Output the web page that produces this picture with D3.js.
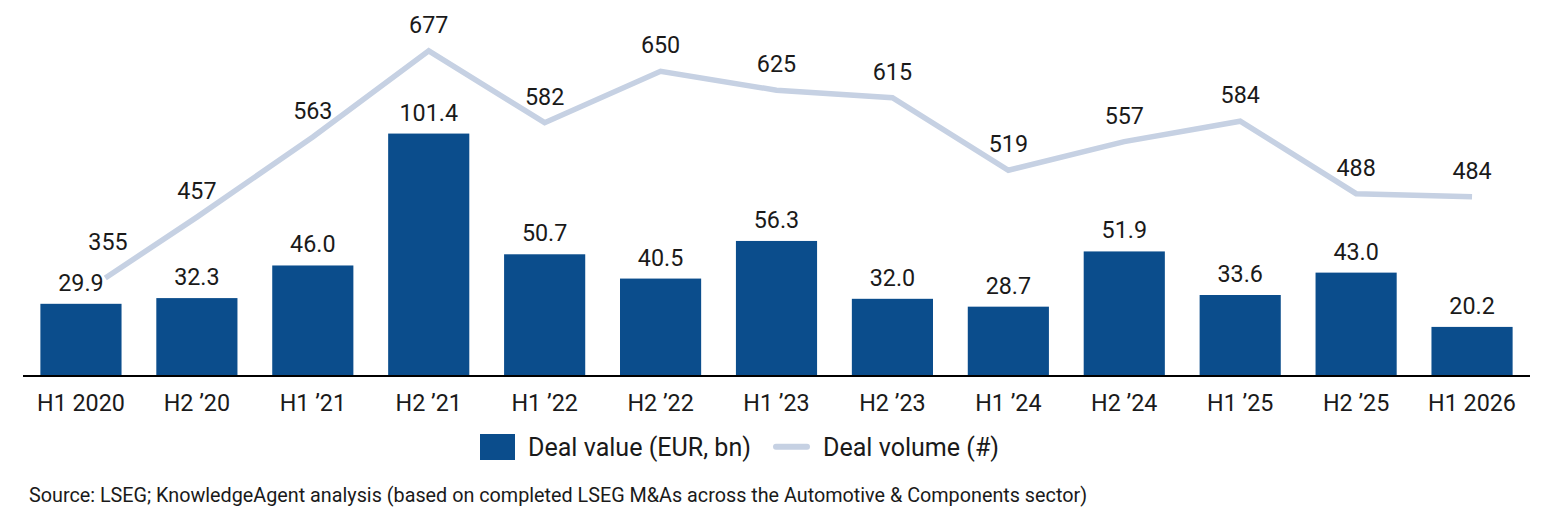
<!DOCTYPE html>
<html>
<head>
<meta charset="utf-8">
<script src="https://cdn.jsdelivr.net/npm/d3@7"></script>
<style>
  html, body { margin: 0; padding: 0; background: #ffffff; }
  svg { display: block; }
  text { font-family: Roboto, "Noto Sans", sans-serif; fill: #1a1a1a; }
</style>
</head>
<body>
<svg id="chart" width="1546" height="520"></svg>
<script>
// ---- data ----
const categories = ["H1 2020", "H2 \u201920", "H1 \u201921", "H2 \u201921", "H1 \u201922", "H2 \u201922", "H1 \u201923", "H2 \u201923", "H1 \u201924", "H2 \u201924", "H1 \u201925", "H2 \u201925", "H1 2026"];
const dealValue = [29.9, 32.3, 46.0, 101.4, 50.7, 40.5, 56.3, 32.0, 28.7, 51.9, 33.6, 43.0, 20.2];
const dealVolume = [355, 457, 563, 677, 582, 650, 625, 615, 519, 557, 584, 488, 484];
const legendLabels = ["Deal value (EUR, bn)", "Deal volume (#)"];
const sourceText = "Source: LSEG; KnowledgeAgent analysis (based on completed LSEG M&As across the Automotive & Components sector)";

// ---- styles ----
const barColor = "#0b4d8c";
const lineColor = "#c6d1e3";
const fontSize = 23.3;

const svg = d3.select("#chart");

const x = d3.scaleBand().domain(categories).range([23, 1530]).paddingInner(0.3).paddingOuter(0.15);
const y = d3.scaleLinear().domain([0, 157.5]).range([375, 0]);
const y2 = d3.scaleLinear().domain([248, 744.4]).range([375, 0]);
const cx = d => x(d) + x.bandwidth() / 2;

// bars
svg.append("g").selectAll("rect").data(dealValue).join("rect")
  .attr("x", (d, i) => x(categories[i]))
  .attr("y", d => y(d))
  .attr("width", x.bandwidth())
  .attr("height", d => y(0) - y(d))
  .attr("fill", barColor);

// bar labels
svg.append("g").selectAll("text").data(dealValue).join("text")
  .attr("x", (d, i) => cx(categories[i]))
  .attr("y", d => y(d) - 13)
  .attr("text-anchor", "middle")
  .style("font-size", fontSize + "px")
  .text(d => d.toFixed(1));

// x axis
const xAxis = d3.axisBottom(x).tickSize(0).tickPadding(0);
const gx = svg.append("g").attr("transform", "translate(0,376)").call(xAxis);
gx.select(".domain").attr("stroke", "#000").attr("stroke-width", 2).attr("d", "M23,0H1530");
gx.selectAll(".tick text")
  .attr("dy", null)
  .attr("y", 34.5)
  .style("font-size", fontSize + "px")
  .style("font-family", "Roboto, 'Noto Sans', sans-serif")
  .attr("fill", "#1a1a1a");

// line
const pts = dealVolume.map((v, i) => [cx(categories[i]), y2(v)]);
const line = d3.line();
const path = svg.append("path")
  .attr("d", line(pts))
  .attr("fill", "none")
  .attr("stroke", lineColor)
  .attr("stroke-width", 5.5)
  .attr("stroke-linejoin", "miter");
const total = path.node().getTotalLength();
const seg0 = Math.hypot(pts[1][0] - pts[0][0], pts[1][1] - pts[0][1]);
const hide = seg0 * 0.21;
path.attr("stroke-dasharray", total + " " + total).attr("stroke-dashoffset", -hide);

// line labels
svg.append("g").selectAll("text").data(dealVolume).join("text")
  .attr("x", (d, i) => cx(categories[i]) + (i === 0 ? 27 : 0))
  .attr("y", (d, i) => y2(d) - (i === 0 ? 44 : 18))
  .attr("text-anchor", "middle")
  .style("font-size", fontSize + "px")
  .text(d => d);

// legend
const lg = svg.append("g");
lg.append("rect").attr("x", 480).attr("y", 434).attr("width", 35).attr("height", 26).attr("fill", barColor);
const lt1 = lg.append("text").attr("x", 528).attr("y", 455.7).style("font-size", fontSize + "px").text(legendLabels[0]);
lg.append("line").attr("x1", 776).attr("x2", 807).attr("y1", 446.7).attr("y2", 446.7)
  .attr("stroke", lineColor).attr("stroke-width", 6).attr("stroke-linecap", "round");
const lt2 = lg.append("text").attr("x", 823).attr("y", 455.7).style("font-size", fontSize + "px").text(legendLabels[1]);
const lw = lt1.node().getComputedTextLength();
const legendSize = (fontSize * 223 / lw).toFixed(2) + "px";
lt1.style("font-size", legendSize);
lt2.style("font-size", legendSize);

// source
const src = svg.append("text").attr("x", 29).attr("y", 501.5).style("font-size", "17px").text(sourceText);
const w = src.node().getComputedTextLength();
src.style("font-size", (17 * 1059 / w).toFixed(2) + "px");
</script>
</body>
</html>
